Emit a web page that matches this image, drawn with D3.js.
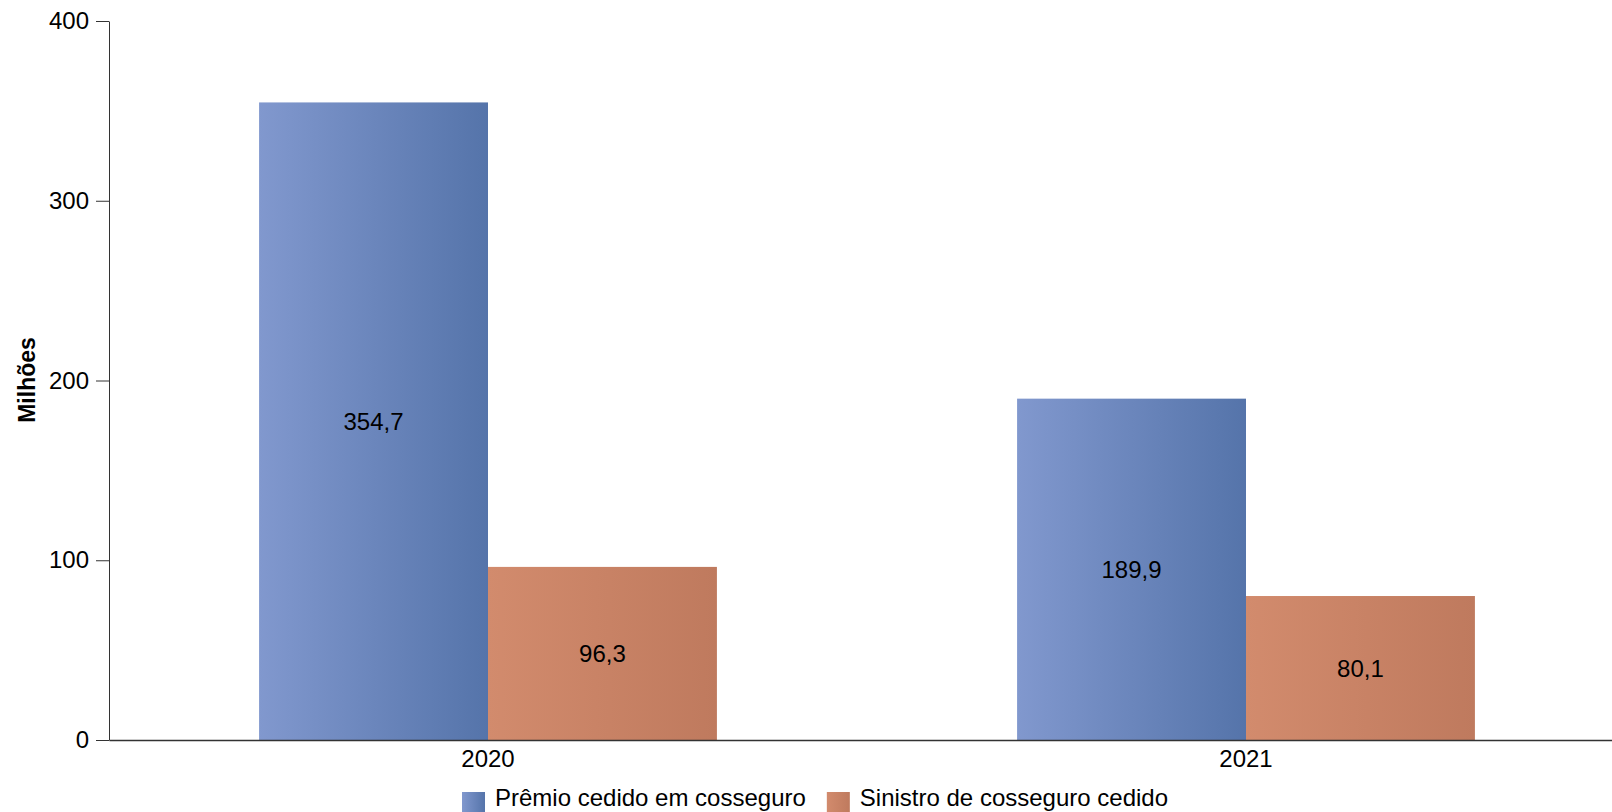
<!DOCTYPE html>
<html>
<head>
<meta charset="utf-8">
<script src="https://cdn.jsdelivr.net/npm/d3@7"></script>
<style>
  html, body { margin: 0; padding: 0; background: #fff; }
  svg { display: block; font-family: "Liberation Sans", Arial, Helvetica, sans-serif; }
</style>
</head>
<body>
<svg id="chart" width="1612" height="812"></svg>
<script>
const categories = ["2020", "2021"];
const seriesNames = ["Prêmio cedido em cosseguro", "Sinistro de cosseguro cedido"];
const premio = [354.7, 189.9];
const sinistro = [96.3, 80.1];
const yTicks = [0, 100, 200, 300, 400];
const yTitle = "Milhões";

const seriesValues = [premio, sinistro];
const gradStops = [["#8198ce", "#5574aa"], ["#d28b6d", "#bf7a5e"]];

const svg = d3.select("#chart");
const fontSize = 24;

const locale = d3.formatLocale({ decimal: ",", thousands: ".", grouping: [3], currency: ["R$", ""] });
const fmt = locale.format(".1f");

const y = d3.scaleLinear().domain([0, 400]).range([740, 21]);
const x0 = d3.scaleBand().domain(categories).range([109, 1625]).paddingInner(0.396).paddingOuter(0.198);
const x1 = d3.scaleBand().domain(seriesNames).range([0, x0.bandwidth()]).padding(0);

const defs = svg.append("defs");
seriesNames.forEach((s, i) => {
  const g = defs.append("linearGradient").attr("id", "grad" + i)
    .attr("x1", "0%").attr("x2", "100%").attr("y1", "0%").attr("y2", "0%");
  g.append("stop").attr("offset", "0%").attr("stop-color", gradStops[i][0]);
  g.append("stop").attr("offset", "100%").attr("stop-color", gradStops[i][1]);
});

// bars
const groups = svg.append("g").selectAll("g").data(categories).join("g")
  .attr("transform", d => `translate(${x0(d)},0)`);

groups.each(function(cat, ci) {
  const g = d3.select(this);
  const data = seriesNames.map((s, si) => ({ s, si, v: seriesValues[si][ci] }));
  g.selectAll("rect").data(data).join("rect")
    .attr("x", d => x1(d.s))
    .attr("y", d => y(d.v))
    .attr("width", x1.bandwidth())
    .attr("height", d => y(0) - y(d.v))
    .attr("fill", d => `url(#grad${d.si})`);
  g.selectAll("text").data(data).join("text")
    .attr("x", d => x1(d.s) + x1.bandwidth() / 2)
    .attr("y", d => (y(d.v) + y(0)) / 2)
    .attr("text-anchor", "middle")
    .attr("dominant-baseline", "central")
    .attr("font-size", fontSize)
    .attr("fill", "#000")
    .text(d => fmt(d.v));
});

// y axis
const yAxis = svg.append("g").attr("transform", "translate(109,0)")
  .call(d3.axisLeft(y).tickValues(yTicks).tickSize(13).tickSizeOuter(0).tickPadding(7));
yAxis.selectAll("text").attr("font-size", fontSize).attr("fill", "#000").attr("font-family", null);
yAxis.selectAll("line").attr("stroke", "#333");
yAxis.select(".domain").attr("stroke", "#333");

// x axis
const xAxis = svg.append("g").attr("transform", "translate(0,740)")
  .call(d3.axisBottom(x0).tickSize(0).tickSizeOuter(0).tickPadding(10));
xAxis.selectAll("text").attr("font-size", fontSize).attr("fill", "#000").attr("font-family", null);
xAxis.select(".domain").attr("stroke", "#333").attr("stroke-width", 1.5);

// y title
svg.append("text")
  .attr("transform", "translate(35,380) rotate(-90)")
  .attr("text-anchor", "middle")
  .attr("font-size", 23)
  .attr("font-weight", "bold")
  .attr("fill", "#000")
  .text(yTitle);

// legend
const legend = svg.append("g");
let lx = 462;
seriesNames.forEach((s, i) => {
  legend.append("rect").attr("x", lx).attr("y", 792).attr("width", 23).attr("height", 20)
    .attr("fill", `url(#grad${i})`);
  const t = legend.append("text").attr("x", lx + 33).attr("y", 806)
    .attr("font-size", fontSize).attr("fill", "#000").text(s);
  lx = lx + 33 + t.node().getComputedTextLength() + 21;
});
</script>
</body>
</html>
